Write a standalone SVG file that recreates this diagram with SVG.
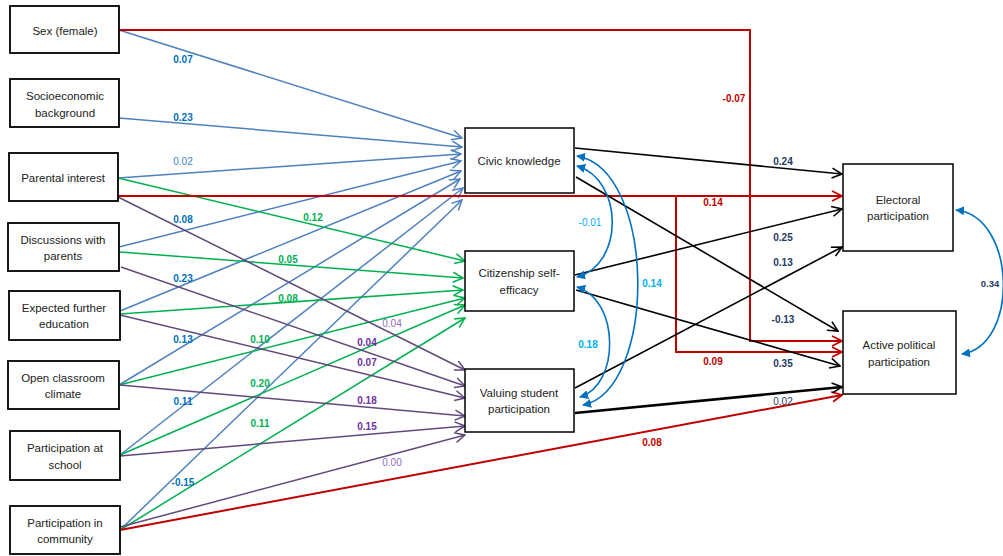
<svg xmlns="http://www.w3.org/2000/svg" width="1003" height="556" viewBox="0 0 1003 556">
<style>
.box{fill:#fff;stroke:#000;stroke-width:1.8}
.box2{fill:#fff;stroke:#000;stroke-width:1.5}
.bt{font-family:"Liberation Sans",Arial,sans-serif;font-size:11.5px;fill:#222;text-anchor:middle}
.lb{font-family:"Liberation Sans",Arial,sans-serif;font-size:10px;font-weight:bold;text-anchor:middle}
.ln{font-weight:normal}
.blue{stroke:#4f81bd;stroke-width:1.5;fill:none;marker-end:url(#aBlue)}
.green{stroke:#00b050;stroke-width:1.5;fill:none;marker-end:url(#aGreen)}
.purple{stroke:#604a7b;stroke-width:1.5;fill:none;marker-end:url(#aPurple)}
.red{stroke:#c00000;stroke-width:2;fill:none;marker-end:url(#aRed)}
.black{stroke:#000;stroke-width:1.6;fill:none;marker-end:url(#aBlack)}
.thick{stroke-width:2.6}
.cov{stroke:#0070c0;stroke-width:1.6;fill:none;marker-start:url(#aCov);marker-end:url(#aCov)}
.cb{fill:#0070c0}.cl{fill:#3d85c6}.cg{fill:#00b050}.cp{fill:#7030a0}.cpl{fill:#8e6bbf}
.cr{fill:#c00000}.cn{fill:#1f3864}.cc{fill:#00b0f0}
</style>
<defs>
<marker id="aBlue" viewBox="0 0 12 12" refX="11" refY="6" markerWidth="12" markerHeight="12" orient="auto" markerUnits="userSpaceOnUse"><path d="M1,1 L11,6 L1,11" fill="none" stroke="#4f81bd" stroke-width="1.5"/></marker>
<marker id="aGreen" viewBox="0 0 12 12" refX="11" refY="6" markerWidth="12" markerHeight="12" orient="auto" markerUnits="userSpaceOnUse"><path d="M1,1 L11,6 L1,11" fill="none" stroke="#00b050" stroke-width="1.5"/></marker>
<marker id="aPurple" viewBox="0 0 12 12" refX="11" refY="6" markerWidth="12" markerHeight="12" orient="auto" markerUnits="userSpaceOnUse"><path d="M1,1 L11,6 L1,11" fill="none" stroke="#604a7b" stroke-width="1.5"/></marker>
<marker id="aRed" viewBox="0 0 12 12" refX="11" refY="6" markerWidth="12" markerHeight="12" orient="auto" markerUnits="userSpaceOnUse"><path d="M1,1 L11,6 L1,11" fill="none" stroke="#c00000" stroke-width="1.8"/></marker>
<marker id="aBlack" viewBox="0 0 12 12" refX="11" refY="6" markerWidth="12" markerHeight="12" orient="auto" markerUnits="userSpaceOnUse"><path d="M1,1 L11,6 L1,11" fill="none" stroke="#000" stroke-width="1.6"/></marker>
<marker id="aCov" viewBox="0 0 10 10" refX="9" refY="5" markerWidth="9" markerHeight="9" orient="auto-start-reverse" markerUnits="userSpaceOnUse"><path d="M0,0 L10,5 L0,10 z" fill="#0070c0"/></marker>
</defs>

<g id="connectors">
<path class="blue" d="M119,30 L462,138"/>
<path class="blue" d="M119,118 L462,147"/>
<path class="blue" d="M118,178 L461,154"/>
<path class="blue" d="M119,247 L461,161"/>
<path class="blue" d="M120,311 L461,171"/>
<path class="blue" d="M119,385 L460,179"/>
<path class="blue" d="M120,455 L463,188"/>
<path class="blue" d="M120,530 L462,200"/>
<path class="green" d="M118,178 L465,261"/>
<path class="green" d="M120,252 L463,278"/>
<path class="green" d="M120,314 L463,290"/>
<path class="green" d="M119,385 L465,298"/>
<path class="green" d="M120,455 L465,305"/>
<path class="green" d="M120,530 L465,318"/>
<path class="purple" d="M118,197 L465,370"/>
<path class="purple" d="M121,267 L465,386"/>
<path class="purple" d="M120,315 L465,398"/>
<path class="purple" d="M120,385 L465,416"/>
<path class="purple" d="M120,456 L465,426"/>
<path class="purple" d="M120,527 L465,435"/>
<path class="red" d="M119,30 H750 V341 H842"/>
<path class="red" d="M118,196 H842"/>
<path class="red" d="M676,196 V352 H842"/>
<path class="red" d="M120,530 L842,395"/>
<path class="black" d="M575,148 L842,174"/>
<path class="black" d="M576,177 L838,331"/>
<path class="black" d="M575,275 L842,209"/>
<path class="black" d="M576,290 L840,366"/>
<path class="black" d="M575,388 L842,247"/>
<path class="black thick" d="M575,413 L842,387"/>
<path class="cov" d="M577,166 C624,180 624,265 577,277"/>
<path class="cov" d="M577,156 C657,170 657,390 583,405"/>
<path class="cov" d="M577,287 C620,300 620,385 580,397"/>
<path class="cov" d="M956,210 C1016,216 1020,345 962,354"/>
</g>

<g id="labels">
<text class="lb cb" x="183" y="63">0.07</text>
<text class="lb cb" x="183" y="121">0.23</text>
<text class="lb cl ln" x="183" y="165">0.02</text>
<text class="lb cb" x="183" y="223">0.08</text>
<text class="lb cb" x="183" y="282">0.23</text>
<text class="lb cb" x="183" y="343">0.13</text>
<text class="lb cb" x="183" y="405">0.11</text>
<text class="lb cb" x="183" y="486">-0.15</text>
<text class="lb cg" x="313" y="221">0.12</text>
<text class="lb cg" x="288" y="263">0.05</text>
<text class="lb cg" x="288" y="302">0.08</text>
<text class="lb cg" x="260" y="343">0.10</text>
<text class="lb cg" x="260" y="387">0.20</text>
<text class="lb cg" x="260" y="427">0.11</text>
<text class="lb cpl ln" x="392" y="327">0.04</text>
<text class="lb cp" x="367" y="346">0.04</text>
<text class="lb cp" x="367" y="366">0.07</text>
<text class="lb cp" x="367" y="404">0.18</text>
<text class="lb cp" x="367" y="430">0.15</text>
<text class="lb cpl ln" x="392" y="466">0.00</text>
<text class="lb cc ln" x="590" y="226">-0.01</text>
<text class="lb cc" x="652" y="287">0.14</text>
<text class="lb cc" x="588" y="348">0.18</text>
<text class="lb cr" x="734" y="102">-0.07</text>
<text class="lb cr" x="713" y="206">0.14</text>
<text class="lb cr" x="713" y="365">0.09</text>
<text class="lb cr" x="652" y="446">0.08</text>
<text class="lb cn" x="783" y="165">0.24</text>
<text class="lb cn" x="783" y="241">0.25</text>
<text class="lb cn" x="783" y="266">0.13</text>
<text class="lb cn" x="783" y="323">-0.13</text>
<text class="lb cn" x="783" y="367">0.35</text>
<text class="lb cn ln" x="783" y="405">0.02</text>
<text class="lb cn" x="990" y="287" style="font-size:9.5px">0.34</text>
</g>

<g id="sex"><rect class="box" x="10" y="6" width="109" height="47"/><text class="bt" x="65" y="35">Sex (female)</text></g>
<g id="ses"><rect class="box" x="10" y="79" width="109" height="48"/><text class="bt" x="65" y="100">Socioeconomic</text><text class="bt" x="65" y="117">background</text></g>
<g id="parint"><rect class="box" x="9" y="153" width="109" height="48"/><text class="bt" x="63" y="182">Parental interest</text></g>
<g id="disc"><rect class="box" x="8" y="223" width="111" height="48"/><text class="bt" x="63" y="244">Discussions with</text><text class="bt" x="63" y="260">parents</text></g>
<g id="expect"><rect class="box" x="9" y="291" width="111" height="49"/><text class="bt" x="64" y="312">Expected further</text><text class="bt" x="64" y="328">education</text></g>
<g id="open"><rect class="box" x="8" y="361" width="111" height="48"/><text class="bt" x="63" y="382">Open classroom</text><text class="bt" x="63" y="398">climate</text></g>
<g id="partschool"><rect class="box" x="10" y="431" width="110" height="49"/><text class="bt" x="65" y="452">Participation at</text><text class="bt" x="65" y="469">school</text></g>
<g id="partcomm"><rect class="box" x="10" y="506" width="110" height="48"/><text class="bt" x="65" y="527">Participation in</text><text class="bt" x="65" y="543">community</text></g>

<g id="civic"><rect class="box2" x="465" y="128" width="109" height="65"/><text class="bt" x="519" y="165">Civic knowledge</text></g>
<g id="efficacy"><rect class="box2" x="465" y="251" width="109" height="60"/><text class="bt" x="519" y="277">Citizenship self-</text><text class="bt" x="519" y="294">efficacy</text></g>
<g id="valuing"><rect class="box2" x="465" y="369" width="109" height="63"/><text class="bt" x="519" y="397">Valuing student</text><text class="bt" x="519" y="413">participation</text></g>

<g id="electoral"><rect class="box2" x="843" y="164" width="110" height="87"/><text class="bt" x="898" y="204">Electoral</text><text class="bt" x="898" y="220">participation</text></g>
<g id="active"><rect class="box2" x="843" y="311" width="113" height="83"/><text class="bt" x="899" y="349">Active political</text><text class="bt" x="899" y="366">participation</text></g>
</svg>
